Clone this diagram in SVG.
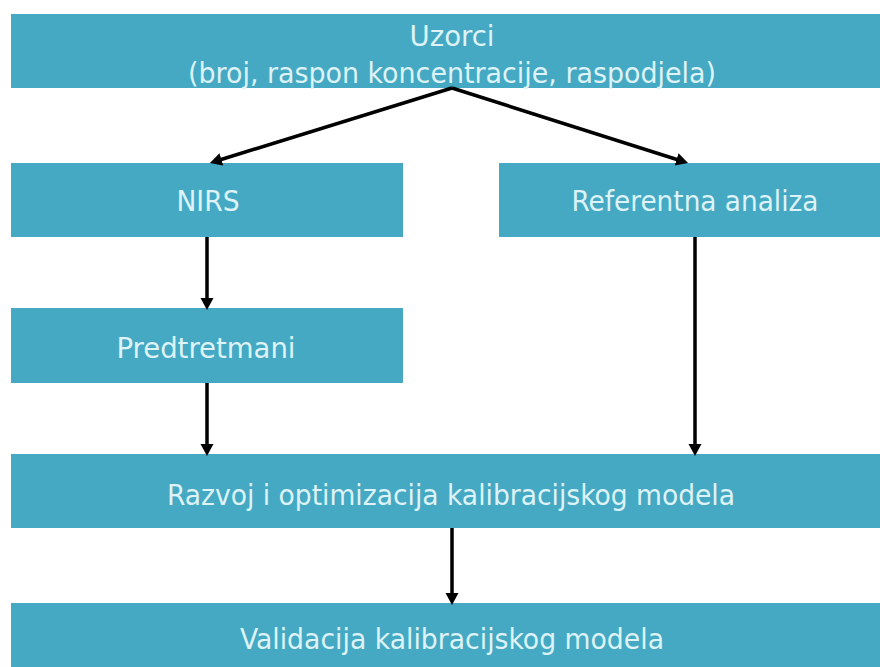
<svg xmlns="http://www.w3.org/2000/svg" width="880" height="667" viewBox="0 0 880 667">
<style>
.box{fill:#45A9C3;}
.t{fill:#DDF3F8;font-family:"DejaVu Sans Condensed","Liberation Sans Narrow","Liberation Sans",sans-serif;font-size:28px;text-anchor:middle;}
.c{stroke:#000;stroke-width:3.5;fill:none;marker-end:url(#ah);}
</style>
<defs>
<marker id="ah" markerUnits="userSpaceOnUse" markerWidth="14" markerHeight="14" refX="2" refY="6.5" orient="auto">
<path d="M0,0 L12,6.5 L0,13 z" fill="#000"/>
</marker>
</defs>
<rect width="880" height="667" fill="#fff"/>
<g id="uzorci">
<rect class="box" x="11" y="14" width="869" height="74"/>
<text class="t" x="452" y="46" textLength="85" lengthAdjust="spacingAndGlyphs">Uzorci</text>
<text class="t" x="452" y="83" textLength="528" lengthAdjust="spacingAndGlyphs">(broj, raspon koncentracije, raspodjela)</text>
</g>
<g id="nirs">
<rect class="box" x="11" y="163" width="392" height="74"/>
<text class="t" x="208" y="211" textLength="63" lengthAdjust="spacingAndGlyphs">NIRS</text>
</g>
<g id="referentna">
<rect class="box" x="499" y="163" width="381" height="74"/>
<text class="t" x="695" y="211" textLength="247" lengthAdjust="spacingAndGlyphs">Referentna analiza</text>
</g>
<g id="predtretmani">
<rect class="box" x="11" y="308" width="392" height="75"/>
<text class="t" x="206" y="358" textLength="179" lengthAdjust="spacingAndGlyphs">Predtretmani</text>
</g>
<g id="razvoj">
<rect class="box" x="11" y="454" width="869" height="74"/>
<text class="t" x="451" y="505" textLength="568" lengthAdjust="spacingAndGlyphs">Razvoj i optimizacija kalibracijskog modela</text>
</g>
<g id="validacija">
<rect class="box" x="11" y="603" width="869" height="64"/>
<text class="t" x="452" y="649" textLength="424" lengthAdjust="spacingAndGlyphs">Validacija kalibracijskog modela</text>
</g>
<g id="connectors">
<line class="c" x1="452" y1="88" x2="219.5" y2="160"/>
<line class="c" x1="452" y1="88" x2="678.5" y2="160"/>
<line class="c" x1="207" y1="237" x2="207" y2="300"/>
<line class="c" x1="207" y1="383" x2="207" y2="446"/>
<line class="c" x1="695" y1="237" x2="695" y2="446"/>
<line class="c" x1="452" y1="528" x2="452" y2="595"/>
</g>
</svg>
